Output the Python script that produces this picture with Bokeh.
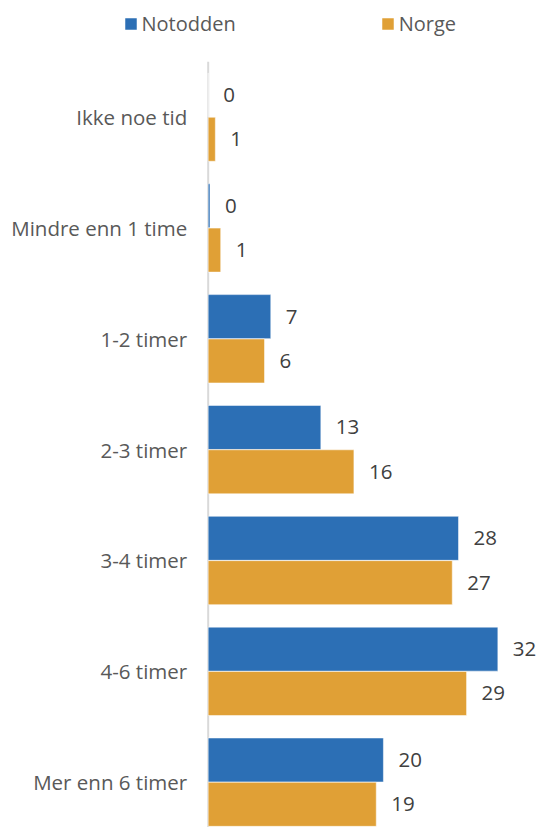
from bokeh.plotting import figure
from bokeh.models import ColumnDataSource, Range1d, Legend, LegendItem, LabelSet
from bokeh.core.properties import value
from bokeh.transform import dodge
from bokeh.embed import file_html
from bokeh.resources import INLINE

categories = ["Ikke noe tid", "Mindre enn 1 time", "1-2 timer", "2-3 timer",
              "3-4 timer", "4-6 timer", "Mer enn 6 timer"]
notodden = [0.0, 0.2, 7.0, 12.6, 28.0, 32.4, 19.6]
norge = [0.8, 1.4, 6.3, 16.3, 27.3, 28.9, 18.8]
series_names = ["Notodden", "Norge"]
colors = ["#2C6FB5", "#E0A036"]

FONT = "Open Sans"
FS = "20.5px"

n = len(categories)
idx = list(range(n))
src = ColumnDataSource(dict(
    y=idx,
    cat=categories,
    notodden=notodden,
    norge=norge,
    lab_notodden=[f"{v:.0f}" for v in notodden],
    lab_norge=[f"{v:.0f}" for v in norge],
))

p = figure(width=540, height=827, output_backend="svg", toolbar_location=None,
           x_range=Range1d(-23.23, 37.17), y_range=Range1d(n - 0.5 - 0.091, -1.052),
           min_border=0)
p.outline_line_color = None
p.grid.visible = False
p.axis.visible = False

# category axis line
p.segment(x0=[0], y0=[-0.5], x1=[0], y1=[n - 0.5], line_color="#D9D9D9", line_width=2)

r1 = p.hbar(y=dodge("y", -0.2, range=p.y_range), right="notodden", left=0, height=0.397,
            source=src, fill_color=colors[0], line_color="white", line_alpha=0.5, line_width=1)
r2 = p.hbar(y=dodge("y", 0.2, range=p.y_range), right="norge", left=0, height=0.397,
            source=src, fill_color=colors[1], line_color="white", line_alpha=0.5, line_width=1)

for col, lab, off in [("notodden", "lab_notodden", -0.2), ("norge", "lab_norge", 0.2)]:
    ls = LabelSet(x=col, y=dodge("y", off, range=p.y_range), text=lab, source=src,
                  x_offset=15, text_align="left", text_baseline="middle",
                  text_font=value(FONT), text_font_size=FS, text_color="#404040")
    p.add_layout(ls)

# category labels
p.text(x=0, y="y", text="cat", source=src, x_offset=-21, text_align="right",
       text_baseline="middle", text_font=value(FONT), text_font_size=FS,
       text_color="#595959")

legend = Legend(items=[LegendItem(label=series_names[0], renderers=[r1]),
                       LegendItem(label=series_names[1], renderers=[r2])],
                orientation="horizontal", location=(122.5, 790),
                glyph_width=15, glyph_height=15, label_standoff=4, spacing=144,
                label_text_font=FONT, label_text_font_size="20px", label_text_color="#595959",
                border_line_color=None, background_fill_alpha=0, padding=0, margin=0)
p.add_layout(legend)

open("out.html", "w").write(file_html(p, INLINE))
